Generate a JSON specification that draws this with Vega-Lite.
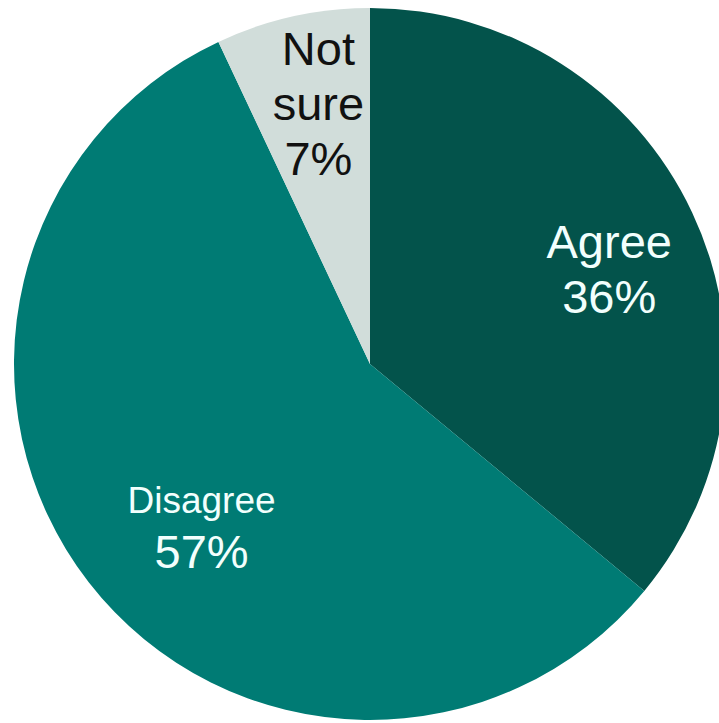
{
  "$schema": "https://vega.github.io/schema/vega-lite/v6.json",
  "width": 698,
  "height": 718,
  "autosize": "none",
  "padding": {"left": 21, "top": 5, "right": 0, "bottom": 0},
  "background": "#ffffff",
  "view": {"stroke": null},
  "data": {
    "values": [
      {"category": "Agree", "value": 36, "order": 1, "label": "Agree\n36%", "name": "Agree", "pct": "36%"},
      {"category": "Disagree", "value": 57, "order": 2, "label": "Disagree\n57%", "name": "Disagree", "pct": "57%"},
      {"category": "Not sure", "value": 7, "order": 3, "label": "Not\nsure\n7%", "name": "Not sure", "pct": "7%"}
    ]
  },
  "encoding": {
    "theta": {"field": "value", "type": "quantitative", "stack": true},
    "order": {"field": "order", "type": "quantitative"}
  },
  "layer": [
    {
      "mark": {"type": "arc", "outerRadius": 356},
      "encoding": {
        "color": {
          "field": "category",
          "type": "nominal",
          "scale": {"domain": ["Agree", "Disagree", "Not sure"], "range": ["#03534B", "#007B74", "#D1DDDA"]},
          "legend": null
        }
      }
    },
    {
      "mark": {"type": "text", "radius": 250, "dx": 13, "dy": 0, "fontSize": 47, "font": "Liberation Sans", "color": "#F2FFFD", "lineBreak": "\n", "lineHeight": 55, "baseline": "alphabetic", "align": "center"},
      "encoding": {
        "text": {"condition": {"test": "datum.category === 'Agree'", "field": "label"}, "value": ""}
      }
    },
    {
      "mark": {"type": "text", "radius": 236, "dx": 18, "dy": 4, "fontSize": 37, "font": "Liberation Sans", "color": "#F2FFFD", "baseline": "alphabetic", "align": "center"},
      "encoding": {
        "text": {"condition": {"test": "datum.category === 'Disagree'", "field": "name"}, "value": ""}
      }
    },
    {
      "mark": {"type": "text", "radius": 236, "dx": 18, "dy": 59, "fontSize": 47, "font": "Liberation Sans", "color": "#F2FFFD", "baseline": "alphabetic", "align": "center"},
      "encoding": {
        "text": {"condition": {"test": "datum.category === 'Disagree'", "field": "pct"}, "value": ""}
      }
    },
    {
      "mark": {"type": "text", "radius": 264, "dx": 6, "dy": -41, "fontSize": 47, "font": "Liberation Sans", "color": "#111111", "lineBreak": "\n", "lineHeight": 55, "baseline": "alphabetic", "align": "center"},
      "encoding": {
        "text": {"condition": {"test": "datum.category === 'Not sure'", "field": "label"}, "value": ""}
      }
    }
  ]
}
